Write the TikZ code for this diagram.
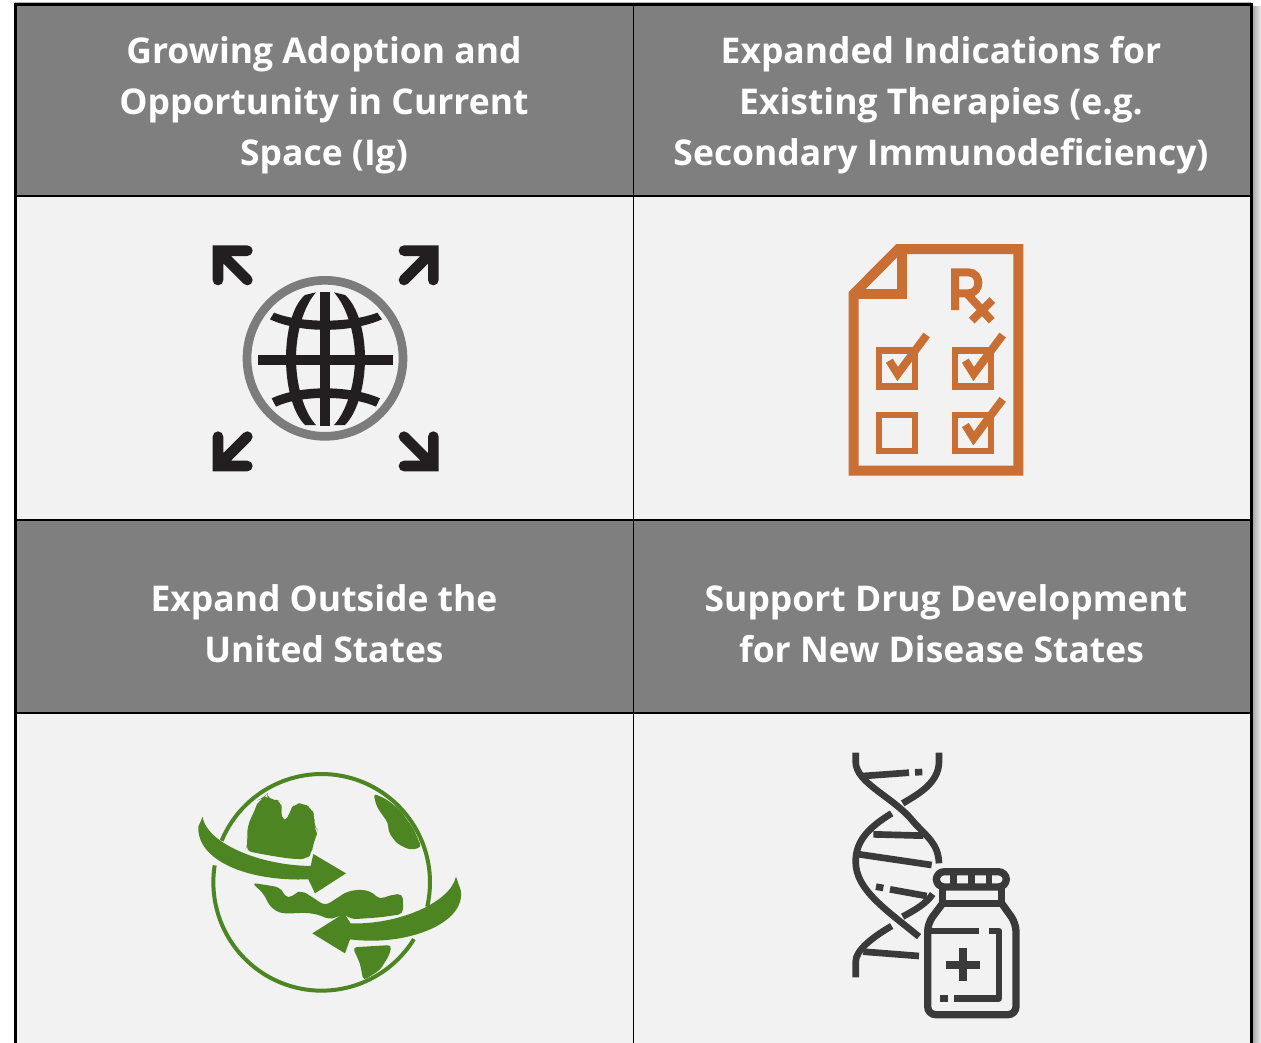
\documentclass[tikz,border=0pt]{standalone}
\usepackage{fontspec}
\setmainfont{Open Sans}
\definecolor{hdr}{HTML}{7F7F7F}
\definecolor{cell}{HTML}{F2F2F2}
\definecolor{ink}{HTML}{231F20}
\definecolor{ring}{HTML}{7C7C7C}
\definecolor{rxc}{HTML}{C96F33}
\definecolor{grn}{HTML}{4C8522}
\definecolor{dna}{HTML}{3A3A3A}
\tikzset{
  hdrtext/.style={text=white,font=\fontsize{26.6pt}{38.25pt}\selectfont\bfseries,align=center,anchor=center,inner sep=0pt},
  zoomgrid/.style={x=.25pt,y=-.25pt},
  arrowstroke/.style={draw=ink,line width=8pt,line cap=round,line join=miter},
  box/.style={draw=rxc,line width=5pt},
  dnal/.style={draw=dna,line width=5pt},
}
\begin{document}
\begin{tikzpicture}[x=.75pt,y=-.75pt]
\useasboundingbox (0,0) rectangle (1261,1043);
% shadow at right
\shade[left color=black!36,right color=black!7] (1252,6) rectangle (1261,1043);
\draw[black!30,line width=.6pt] (15,2.6) -- (1251,2.6);
% fills
\fill[hdr] (15,4) rectangle (1251,196);
\fill[cell] (15,196) rectangle (1251,520);
\fill[hdr] (15,520) rectangle (1251,713);
\fill[cell] (15,713) rectangle (1251,1043);
% grid
\draw[black,line width=2.2pt] (15.5,1043) -- (15.5,4.5) -- (1251.5,4.5) -- (1251.5,1043);
\draw[black,line width=2.2pt] (15,196) -- (1252,196) (15,520) -- (1252,520) (15,713) -- (1252,713);
\draw[black,line width=1pt] (633.5,5) -- (633.5,1043);
% headers
\node[hdrtext] (h1) at (324,105) {Growing Adoption and\\Opportunity in Current\\Space (Ig)};
\node[hdrtext] (h2) at (941,105) {Expanded Indications for\\Existing Therapies (e.g.\\Secondary Immunodeficiency)};
\node[hdrtext] (h3) at (324,624) {Expand Outside the\\United States};
\node[hdrtext] (h4) at (946,624) {Support Drug Development\\for New Disease States\hspace*{6.75pt}};
% ---- globe with arrows
\begin{scope}[shift={(190,230)},zoomgrid]
\draw[ring,line width=6.5pt] (405,385) circle (234);
\fill[ink] (391,185) rectangle (421,588);
\fill[ink] (205,374) rectangle (608,404);
\fill[ink] (345,195) .. controls (305,230) and (288,310) .. (288,385) .. controls (288,460) and (305,545) .. (345,585)
  -- (378,585) .. controls (340,545) and (318,460) .. (318,385) .. controls (318,310) and (340,230) .. (378,187) -- cycle;
\fill[ink] (465,195) .. controls (505,230) and (525,310) .. (525,385) .. controls (525,460) and (505,545) .. (465,585)
  -- (432,585) .. controls (470,545) and (495,460) .. (495,385) .. controls (495,310) and (470,230) .. (432,187) -- cycle;
\fill[ink] (252,248) .. controls (330,280) and (480,280) .. (562,248) -- (576,268) .. controls (480,310) and (330,310) .. (240,268) -- cycle;
\fill[ink] (245,505) .. controls (330,465) and (480,465) .. (570,505) -- (558,530) .. controls (480,495) and (330,495) .. (258,530) -- cycle;
\draw[arrowstroke] (172,62) -- (84,62) -- (84,150) (84,62) -- (172,150);
\draw[arrowstroke] (642,62) -- (730,62) -- (730,150) (730,62) -- (642,150);
\draw[arrowstroke] (172,708) -- (84,708) -- (84,620) (84,708) -- (172,620);
\draw[arrowstroke] (642,708) -- (730,708) -- (730,620) (730,708) -- (642,620);
\end{scope}
% ---- prescription
\begin{scope}[shift={(830,230)},zoomgrid]
\draw[box,line width=7.5pt,line join=miter] (71,192) -- (205,57) -- (565,57) -- (565,722) -- (71,722) -- cycle;
\draw[box,line width=7.5pt] (216,57) -- (216,192) -- (71,192);
\draw[box,line width=6pt] (375,240) -- (375,127) -- (415,127) .. controls (455,127) and (455,190) .. (415,190) -- (375,190) (410,190) -- (485,272);
\draw[box,line width=6pt] (487,210) -- (425,272);
\draw[box] (147,362) rectangle ++(108,108);
\draw[box] (375,362) rectangle ++(108,108);
\draw[box] (147,555) rectangle ++(108,108);
\draw[box] (375,555) rectangle ++(108,108);
\foreach \x/\y in {147/362,375/362,375/555}{
  \draw[box,line width=6pt] (\x+31,\y+30) -- (\x+56,\y+70) -- (\x+143,\y-47);
}
\end{scope}
% ---- green globe
\begin{scope}[shift={(180,760)},zoomgrid]
\draw[grn,line width=3pt] plot[domain=202.6:373,samples=60] ({425+325*cos(\x)},{367+325*sin(\x)});
\draw[grn,line width=3pt] plot[domain=31.6:189,samples=60] ({425+325*cos(\x)},{367+325*sin(\x)});
\fill[grn,rounded corners=5pt] (262,100) -- (250,115) -- (235,120) -- (225,150) -- (205,190) -- (200,230) -- (205,250) -- (195,272) -- (260,285) -- (330,296) -- (380,298) -- (395,280) -- (400,250) -- (410,225) -- (412,210) -- (400,195) -- (405,170) -- (395,145) -- (370,130) -- (345,130) -- (330,150) -- (322,182) -- (305,182) -- (305,150) -- (305,125) -- (285,118) -- (262,118) -- cycle;
\fill[grn,rounded corners=3pt] (580,100) -- (590,140) -- (625,190) -- (625,215) -- (650,250) -- (690,270) -- (725,262) -- (700,205) -- (660,150) -- (620,118) -- cycle;
\fill[grn,rounded corners=4pt] (215,368) -- (300,382) -- (310,400) -- (325,418) -- (345,400) -- (365,392) -- (395,410) -- (435,437) -- (470,415) -- (500,395) -- (540,388) -- (575,395) -- (600,420) -- (620,408) -- (668,400) -- (670,462) -- (600,472) -- (513,478) -- (495,462) -- (470,472) -- (445,478) -- (420,465) -- (380,458) -- (340,460) -- (300,460) -- (270,440) -- (250,400) -- cycle;
\fill[grn,rounded corners=3pt] (518,562) -- (635,555) -- (628,585) -- (600,630) -- (550,662) -- (540,610) -- cycle;
\fill[grn] (68,170) .. controls (75,240) and (220,315) .. (392,318) -- (400,282) -- (498,340) -- (405,400) -- (385,358) .. controls (200,365) and (50,300) .. (55,200) -- cycle;
\fill[grn] (828,350) .. controls (810,430) and (650,495) .. (512,490) -- (492,460) -- (397,520) -- (495,580) -- (510,538) .. controls (680,560) and (860,490) .. (842,390) -- cycle;
\end{scope}
% ---- DNA and bottle
\begin{scope}[shift={(830,740)},zoomgrid,line join=round]
\draw[dnal] (77,38) -- (77,65) .. controls (77,130) and (190,170) .. (250,245) .. controls (290,290) and (325,310) .. (327,370);
\draw[dnal] (327,38) -- (327,65) .. controls (327,130) and (260,165) .. (218,190);
\draw[dnal] (185,220) .. controls (120,260) and (77,300) .. (77,365) .. controls (77,450) and (170,510) .. (267,590);
\draw[dnal] (308,462) .. controls (290,490) and (255,510) .. (218,530);
\draw[dnal] (185,558) .. controls (130,590) and (77,630) .. (77,665) -- (77,712);
\draw[dnal] (100,108) -- (237,98) (255,97) -- (277,96);
\draw[dnal] (130,283) -- (280,287);
\draw[dnal] (88,343) -- (305,375);
\draw[dnal] (180,448) -- (290,468) (138,440) -- (160,444);
\draw[dnal] (100,635) -- (267,648);
\draw[dnal,line width=5.5pt,rounded corners=6pt] (319,395) rectangle (529,441);
\draw[dnal] (371,395) -- (371,441) (424,395) -- (424,441) (477,395) -- (477,441);
\draw[dnal] (338,441) -- (338,490) (515,441) -- (515,490) (338,490) -- (515,490);
\draw[dnal,line width=5.5pt,rounded corners=6pt] (338,490) -- (293,550) -- (293,824) -- (558,824) -- (558,550) -- (515,490);
\draw[dnal] (300,573) -- (446,573) (476,573) -- (507,573) -- (507,775) -- (372,775) (331,775) -- (353,775);
\draw[dnal,line width=6pt] (348,674) -- (450,674) (399,625) -- (399,722);
\end{scope}
\end{tikzpicture}
\end{document}
